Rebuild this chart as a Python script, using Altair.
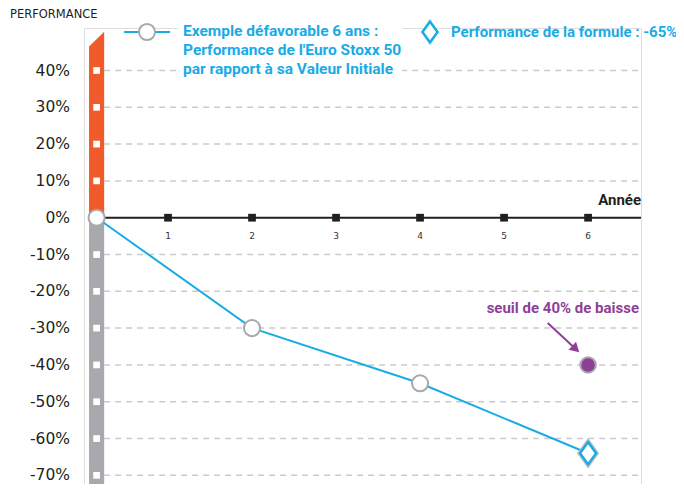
import altair as alt
import pandas as pd

# ---- data ----
years = [0.15, 2, 4, 6]          # first point sits on the vertical bar
perf = [0, -30, -45, -64]
x_ticks = [1, 2, 3, 4, 5, 6]
y_ticks = [40, 30, 20, 10, 0, -10, -20, -30, -40, -50, -60, -70]
grid_levels = [v for v in y_ticks if v != 0]
threshold_year = [6]
threshold_value = [-40]
note_x = [5.70]
note_y = [-24.6]
arrow_from = [5.52, -28.6]
arrow_to = [5.84, -35.4]
bar_left, bar_center, bar_right = 0.06, 0.15, 0.24
orange_top = [46.5, 50.5]
x_end = 6.63
y_min, y_max = -72.36, 51.55

BLUE = "#19ABE6"
ORANGE = "#F15A2B"
GREY = "#A7A9AC"
PURPLE = "#8E3F97"
DARK = "#231F20"
DIAMOND = "M0,-1L0.72,0L0,1L-0.72,0Z"

xs = alt.Scale(domain=[0, x_end], nice=False, zero=False)
ys = alt.Scale(domain=[y_min, y_max], nice=False, zero=False)


def X(f):
    return alt.X(f, type="quantitative", scale=xs, axis=None)


def Y(f):
    return alt.Y(f, type="quantitative", scale=ys, axis=None)


one = pd.DataFrame({"k": [0]})

grid_df = pd.DataFrame({"x": bar_right, "x2": x_end, "y": grid_levels})
grid = alt.Chart(grid_df).mark_rule(color="#C9CACC", strokeWidth=1.5, strokeDash=[6, 5]).encode(
    x=X("x"), x2="x2", y=Y("y"))

legend_box = alt.Chart(one).mark_rect(color="white").encode(
    x=alt.value(94), x2=alt.value(318), y=alt.value(-8), y2=alt.value(52))

orange_df = pd.DataFrame({"x": [bar_left, bar_right], "y": orange_top, "y2": [0, 0]})
orange = alt.Chart(orange_df).mark_area(color=ORANGE, opacity=1).encode(
    x=X("x"), y=Y("y"), y2="y2")

grey_df = pd.DataFrame({"x": [bar_left], "x2": [bar_right], "y": [0], "y2": [y_min]})
grey = alt.Chart(grey_df).mark_rect(color=GREY).encode(x=X("x"), x2="x2", y=Y("y"), y2="y2")

sq_df = pd.DataFrame({"x": bar_center, "y": y_ticks})
squares = alt.Chart(sq_df).mark_square(color="white", size=45, opacity=1).encode(x=X("x"), y=Y("y"))

ylab_df = pd.DataFrame({"y": y_ticks, "t": [f"{v}%" for v in y_ticks]})
ylabels = alt.Chart(ylab_df).mark_text(align="right", baseline="middle", font="DejaVu Sans",
                                       fontSize=15.5, color=DARK).encode(
    x=alt.value(-14), y=Y("y"), text="t:N")

xaxis_df = pd.DataFrame({"x": [bar_right], "x2": [x_end], "y": [0]})
xaxis = alt.Chart(xaxis_df).mark_rule(color=DARK, strokeWidth=2).encode(x=X("x"), x2="x2", y=Y("y"))

xt_df = pd.DataFrame({"x": x_ticks, "y": 0})
xsq = alt.Chart(xt_df).mark_square(color=DARK, size=60, opacity=1).encode(x=X("x"), y=Y("y"))
xlabels = alt.Chart(xt_df).mark_text(dy=18, fontSize=9, color="#333333", font="DejaVu Sans").encode(
    x=X("x"), y=Y("y"), text="x:N")

annee_df = pd.DataFrame({"x": [x_end], "y": [0], "t": ["Année"]})
annee = alt.Chart(annee_df).mark_text(align="right", baseline="middle", dy=-18, fontSize=15,
                                      fontWeight="bold", font="Roboto", color=DARK).encode(
    x=X("x"), y=Y("y"), text="t:N")

series = pd.DataFrame({"x": years, "y": perf})
line = alt.Chart(series).mark_line(color=BLUE, strokeWidth=2).encode(x=X("x"), y=Y("y"))
circles = alt.Chart(series.iloc[:3]).mark_point(shape="circle", fill="white", stroke=GREY, strokeWidth=2,
                                                size=260, opacity=1).encode(x=X("x"), y=Y("y"))
halo = alt.Chart(series.iloc[3:]).mark_point(shape=DIAMOND, fill="white", stroke="#B5B5B5", strokeWidth=5,
                                             size=500, opacity=0.8).encode(x=X("x"), y=Y("y"))
diamond = alt.Chart(series.iloc[3:]).mark_point(shape=DIAMOND, fill="white", stroke=BLUE, strokeWidth=2.5,
                                                size=500, opacity=1).encode(x=X("x"), y=Y("y"))

thr_df = pd.DataFrame({"x": threshold_year, "y": threshold_value})
thr = alt.Chart(thr_df).mark_point(shape="circle", fill=PURPLE, stroke=GREY, strokeWidth=2,
                                   size=240, opacity=1).encode(x=X("x"), y=Y("y"))

note_df = pd.DataFrame({"x": note_x, "y": note_y, "t": ["seuil de 40% de baisse"]})
note = alt.Chart(note_df).mark_text(align="center", baseline="middle", fontSize=15, fontWeight="bold",
                                    font="Roboto", color=PURPLE).encode(x=X("x"), y=Y("y"), text="t:N")

arrow_df = pd.DataFrame({"x": [arrow_from[0]], "y": [arrow_from[1]], "x2": [arrow_to[0]], "y2": [arrow_to[1]]})
arrow = alt.Chart(arrow_df).mark_rule(color=PURPLE, strokeWidth=2).encode(x=X("x"), y=Y("y"), x2="x2", y2="y2")
head_df = pd.DataFrame({"x": [arrow_to[0]], "y": [arrow_to[1]]})
head = alt.Chart(head_df).mark_point(shape="triangle", fill=PURPLE, stroke=PURPLE, size=55, angle=133,
                                     opacity=1).encode(x=X("x"), y=Y("y"))

perf_title = alt.Chart(one).mark_text(text="PERFORMANCE", align="left", baseline="middle", fontSize=11.5,
                                      font="DejaVu Sans", color=DARK).encode(x=alt.value(-74), y=alt.value(-13))

leg_line = alt.Chart(one).mark_rule(color=BLUE, strokeWidth=2).encode(
    x=alt.value(40), x2=alt.value(86), y=alt.value(4))
leg_circle = alt.Chart(one).mark_point(shape="circle", fill="white", stroke=GREY, strokeWidth=2,
                                       size=260, opacity=1).encode(x=alt.value(63), y=alt.value(4))
leg_text = alt.Chart(one).mark_text(
    text=["Exemple défavorable 6 ans :", "Performance de l'Euro Stoxx 50", "par rapport à sa Valeur Initiale"],
    align="left", baseline="middle", lineHeight=19, fontSize=15.5, fontWeight="bold", font="Roboto",
    color=BLUE).encode(x=alt.value(99), y=alt.value(3))
leg_diamond = alt.Chart(one).mark_point(shape=DIAMOND, fill="white", stroke=BLUE, strokeWidth=2.5,
                                        size=440, opacity=1).encode(x=alt.value(346), y=alt.value(4))
leg_text2 = alt.Chart(one).mark_text(text="Performance de la formule : -65%", align="left", baseline="middle",
                                     fontSize=15, fontWeight="bold", font="Roboto", color=BLUE).encode(
    x=alt.value(367), y=alt.value(4))

chart = alt.layer(
    grid, legend_box, orange, grey, squares, ylabels, xaxis, xsq, xlabels, annee,
    line, circles, halo, diamond, thr, note, arrow, head,
    perf_title, leg_line, leg_circle, leg_text, leg_diamond, leg_text2,
).properties(
    width=557, height=456,
    padding={"left": 76, "top": 20, "right": 35, "bottom": 0},
    autosize=alt.AutoSizeParams(type="none"),
).configure_view(stroke=None).configure(background="white")

chart.save("out.html", embed_options={"renderer": "svg", "actions": False})
